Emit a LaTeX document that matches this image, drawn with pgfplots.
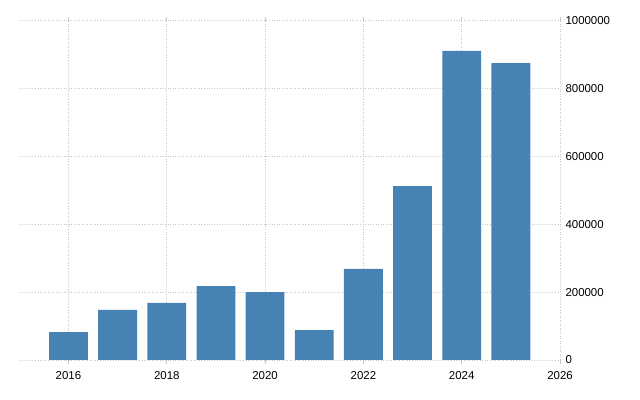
\documentclass[border=0pt]{standalone}
\usepackage{pgfplots}
\pgfplotsset{compat=1.18}
\usepackage{fontspec}
\setmainfont{Liberation Sans}
\definecolor{barblue}{HTML}{4682B4}
\definecolor{gridgray}{HTML}{C8C8C8}
\begin{document}
\begin{tikzpicture}
\path[use as bounding box] (0,0) rectangle (640bp,400bp);
\begin{axis}[
  at={(19.3bp,40bp)}, anchor=south west,
  scale only axis, width=540.7bp, height=339.3bp,
  xmin=2015, xmax=2026, ymin=0, ymax=1000000,
  axis line style={draw=none},
  xtick={2016,2018,...,2026},
  ytick={0,200000,...,1000000},
  grid=major,
  major grid style={gridgray, line width=0.8bp, dash pattern=on 1bp off 1.6bp},
  x tick style={draw=gridgray, line width=0.8bp},
  tick align=outside,
  major tick length=4bp,
  y tick style={draw=none},
  yticklabel pos=right,
  scaled y ticks=false,
  /pgf/number format/assume math mode=true,
  xticklabel style={/pgf/number format/1000 sep={}, font=\fontsize{11.5}{13}\selectfont, yshift=-3.5bp},
  yticklabel style={/pgf/number format/fixed, /pgf/number format/1000 sep={}, font=\fontsize{11.5}{13}\selectfont, anchor=west, xshift=-2bp},
  ybar, bar width=0.79,
]
\addplot[fill=barblue, draw=none] coordinates {
(2016,82500) (2017,147400) (2018,168000) (2019,218000) (2020,200400)
(2021,88400) (2022,268200) (2023,512800) (2024,910700) (2025,875300)
};
\end{axis}
\end{tikzpicture}
\end{document}
